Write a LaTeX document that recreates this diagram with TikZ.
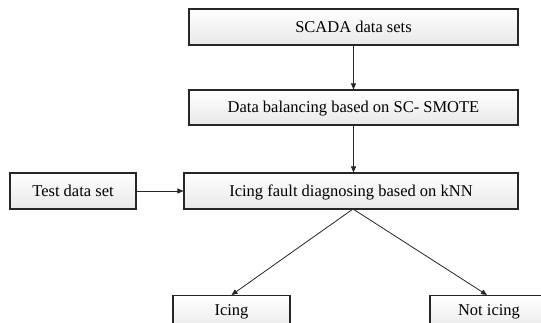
\documentclass[tikz,border=0pt]{standalone}
\usepackage{fontspec}
\setmainfont{Liberation Serif}
\usetikzlibrary{arrows.meta}
\begin{document}
\begin{tikzpicture}[x=1pt,y=-1pt,
  box/.style={draw=black!85, line width=1.1pt, top color=white, bottom color=black!9,
    inner sep=0pt, minimum height=36pt, text height=14pt, text depth=3.4pt,
    font=\fontsize{16.5}{19}\selectfont},
  leaf/.style={box, minimum height=0pt, text height=20pt, text depth=16pt, anchor=north},
  conn/.style={line width=0.8pt, black!85, -{Triangle[length=6pt,width=5pt]}}]
\clip (0,0) rectangle (541,322);
\fill[white] (0,0) rectangle (541,322);
\node[box, minimum width=329pt] (scada) at (353.5,27) {SCADA data sets};
\node[box, minimum width=329pt, minimum height=35pt] (bal) at (353.5,107.5) {Data balancing based on SC- SMOTE};
\node[box, minimum width=334pt] (knn) at (351,191) {Icing fault diagnosing based on kNN};
\node[box, minimum width=126pt] (test) at (73,191) {Test data set};
\node[leaf, minimum width=117pt] (icing) at (231.5,295) {Icing};
\node[leaf, minimum width=118pt] (not) at (489,295) {Not icing};
\coordinate (split) at (353,209);
\coordinate (notin) at (487,295);
\draw[conn] (scada.south) -- (bal.north);
\draw[conn] (bal.south) -- (bal.south |- knn.north);
\draw[conn] (test.east) -- (knn.west);
\draw[conn] (split) -- (icing.north);
\draw[conn] (split) -- (notin);
\end{tikzpicture}
\end{document}
